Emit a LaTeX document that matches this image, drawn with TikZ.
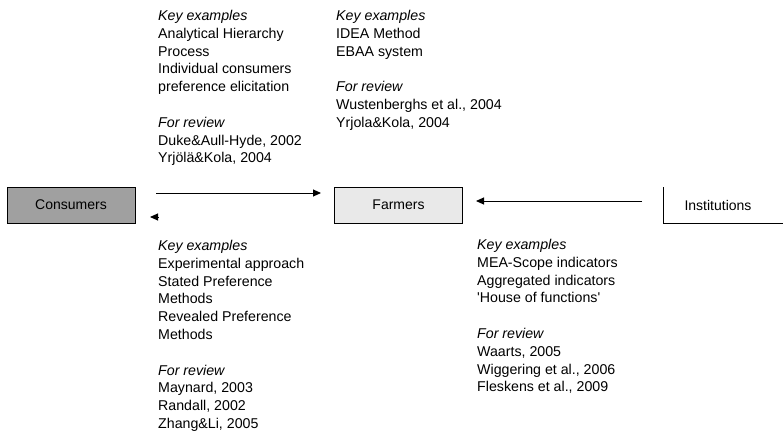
\documentclass[tikz,border=0pt]{standalone}
\usepackage{fontspec}
\setmainfont{Liberation Sans}
\usetikzlibrary{arrows.meta}
\definecolor{consfill}{RGB}{160,160,160}
\definecolor{farmfill}{RGB}{233,233,233}
\tikzset{
  txt/.style={font=\fontsize{14.2}{17.8}\selectfont, inner sep=0pt, align=left, anchor=north west},
  actor/.style={font=\fontsize{14}{17}\selectfont, draw=black, line width=0.8pt, minimum width=128pt, minimum height=36pt, inner sep=0pt},
  flow/.style={line width=1pt, -{Triangle[length=8pt,width=7pt]}},
}
\begin{document}
\begin{tikzpicture}[x=1pt,y=-1pt]
\useasboundingbox (0,0) rectangle (783,433);
\node[actor, fill=consfill] (cons) at (71,205) {Consumers};
\node[actor, fill=farmfill] (farm) at (398.5,205) {Farmers};
\node[font=\fontsize{14}{17}\selectfont, minimum width=110pt, minimum height=36pt, inner sep=0pt, outer sep=0pt] (inst) at (718,205) {Institutions};
\coordinate (instr) at (783,0);
\draw[line width=0.8pt] (inst.north west) -- (inst.south west) -- (inst.south west -| instr);
\coordinate (a1s) at (156,193);
\coordinate (a1e) at (321,193);
\coordinate (a2s) at (158,217);
\coordinate (a2e) at (150,217);
\coordinate (a3s) at (642,201);
\coordinate (a3e) at (476,201);
\draw[flow] (a1s) -- (a1e);
\draw[flow] (a2s) -- (a2e);
\draw[flow] (a3s) -- (a3e);
\node[txt] (tl) at (158,10) {\textit{Key examples}\\Analytical Hierarchy\\Process\\Individual consumers\\preference elicitation\\[17.8pt]\textit{For review}\\Duke\&Aull-Hyde, 2002\\Yrjölä\&Kola, 2004};
\node[txt] (tm) at (336,10) {\textit{Key examples}\\IDEA Method\\EBAA system\\[17.8pt]\textit{For review}\\Wustenberghs et al., 2004\\Yrjola\&Kola, 2004};
\node[txt] (bl) at (158,240) {\textit{Key examples}\\Experimental approach\\Stated Preference\\Methods\\Revealed Preference\\Methods\\[17.8pt]\textit{For review}\\Maynard, 2003\\Randall, 2002\\Zhang\&Li, 2005};
\node[txt] (br) at (477,239) {\textit{Key examples}\\MEA-Scope indicators\\Aggregated indicators\\\textquotesingle House of functions\textquotesingle\\[17.8pt]\textit{For review}\\Waarts, 2005\\Wiggering et al., 2006\\Fleskens et al., 2009};
\end{tikzpicture}
\end{document}
